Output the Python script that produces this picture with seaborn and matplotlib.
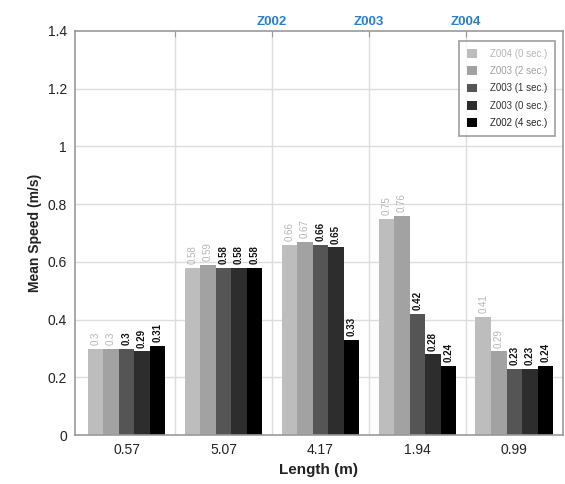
import matplotlib
matplotlib.use("Agg")
import matplotlib.pyplot as plt
import seaborn as sns
import pandas as pd

# Segment lengths (x categories)
lengths = ["0.57", "5.07", "4.17", "1.94", "0.99"]

# Mean speed per series, one value per segment
z004_0s = [0.30, 0.58, 0.66, 0.75, 0.41]
z003_2s = [0.30, 0.59, 0.67, 0.76, 0.29]
z003_1s = [0.30, 0.58, 0.66, 0.42, 0.23]
z003_0s = [0.29, 0.58, 0.65, 0.28, 0.23]
z002_4s = [0.31, 0.58, 0.33, 0.24, 0.24]

series_names = ["Z004 (0 sec.)", "Z003 (2 sec.)", "Z003 (1 sec.)",
                "Z003 (0 sec.)", "Z002 (4 sec.)"]
series_values = [z004_0s, z003_2s, z003_1s, z003_0s, z002_4s]

top_ticks = [0.5, 1.5, 2.5, 3.5]
top_labels = ["", "Z002", "Z003", "Z004"]

bar_colors = ["#bdbdbd", "#a2a2a2", "#555555", "#2d2d2d", "#000000"]
label_colors = ["#b5b5b5", "#b5b5b5", "#111111", "#111111", "#111111"]

rows = []
for name, vals in zip(series_names, series_values):
    for cat, v in zip(lengths, vals):
        rows.append({"Length": cat, "Speed": v, "Series": name})
df = pd.DataFrame(rows)

sns.set_style("white")
plt.rcParams["font.family"] = ["Liberation Sans", "DejaVu Sans"]

fig = plt.figure(figsize=(5.65, 4.84), dpi=100)
ax = fig.add_axes([0.133, 0.101, 0.863, 0.835])

sns.barplot(data=df, x="Length", y="Speed", hue="Series", order=lengths,
            hue_order=series_names, palette=bar_colors, saturation=1,
            width=0.8, edgecolor="none", ax=ax, legend=True)

# Value labels above each bar
for cont, col in zip(ax.containers, label_colors):
    weight = "normal" if col == "#b5b5b5" else "bold"
    for bar in cont:
        h = bar.get_height()
        ax.text(bar.get_x() + bar.get_width() / 2, h + 0.012, f"{h:g}",
                rotation=90, ha="center", va="bottom", fontsize=7,
                color=col, fontweight=weight)

ax.set_xlim(-0.53, 4.5)
ax.set_ylim(0, 1.4)
ax.set_yticks([0, 0.2, 0.4, 0.6, 0.8, 1.0, 1.2, 1.4])
ax.set_yticklabels(["0", "0.2", "0.4", "0.6", "0.8", "1", "1.2", "1.4"])
ax.tick_params(axis="both", labelsize=10, colors="#222222", length=0, pad=6)

# Grid: horizontal at y ticks, vertical between groups
for y in [0.2, 0.4, 0.6, 0.8, 1.0, 1.2]:
    ax.axhline(y, color="#dddddd", lw=1, zorder=0)
for x in top_ticks:
    ax.axvline(x, color="#dddddd", lw=1, zorder=0)
ax.set_axisbelow(True)

for s in ax.spines.values():
    s.set_visible(True)
    s.set_color("#999999")
    s.set_linewidth(1.2)

ax.set_xlabel("Length (m)", fontsize=11, fontweight="bold", color="#222222")
ax.set_ylabel("Mean Speed (m/s)", fontsize=10, fontweight="bold", color="#222222")

# Top axis with intersection labels
top = ax.secondary_xaxis("top")
top.set_xticks(top_ticks)
top.set_xticklabels(top_labels)
top.tick_params(length=4, color="#999999", labelsize=9.5, pad=2, direction="in")
for t in top.get_xticklabels():
    t.set_color("#2a7fd0")
    t.set_fontweight("bold")
top.spines["top"].set_visible(False)

leg = ax.legend(loc="upper right", fontsize=7, frameon=True, fancybox=False,
                handlelength=1.0, handleheight=1.0, borderpad=0.8,
                handletextpad=1.4, labelspacing=0.75, borderaxespad=0.0,
                bbox_to_anchor=(0.985, 0.975))
leg.get_frame().set_edgecolor("#888888")
leg.get_frame().set_linewidth(1.2)
for txt, col in zip(leg.get_texts(), ["#b5b5b5", "#a0a0a0", "#333333", "#333333", "#222222"]):
    txt.set_color(col)

fig.savefig("out.png", dpi=100)
